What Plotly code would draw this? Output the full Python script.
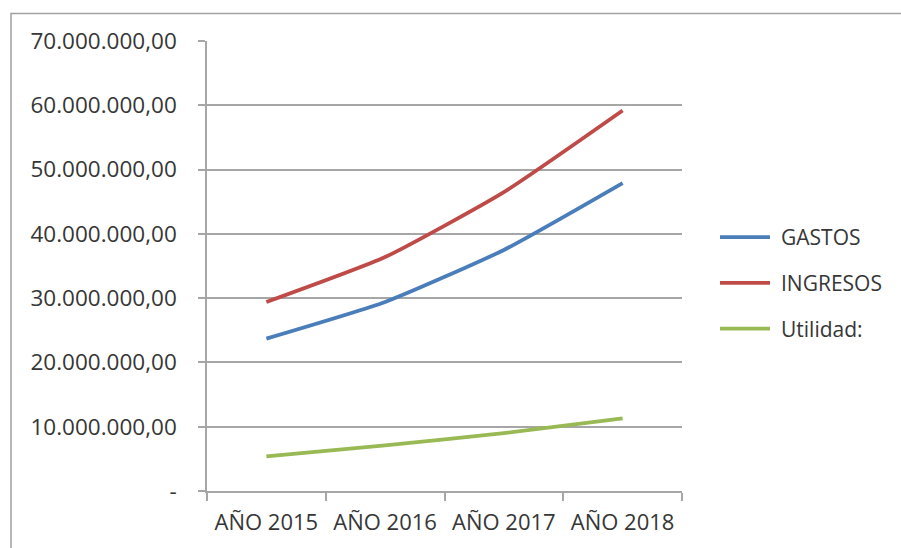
import plotly.graph_objects as go

# Annual figures (pesos)
years = ["AÑO 2015", "AÑO 2016", "AÑO 2017", "AÑO 2018"]
gastos = [23_700_000, 29_400_000, 37_500_000, 47_900_000]
ingresos = [29_400_000, 36_400_000, 46_500_000, 59_200_000]
utilidad = [5_400_000, 7_100_000, 9_000_000, 11_300_000]

series_names = ["GASTOS", "INGRESOS", "Utilidad:"]
series_colors = ["#4a7ebb", "#be4b48", "#98b954"]

y_tick_vals = [0, 10_000_000, 20_000_000, 30_000_000, 40_000_000,
               50_000_000, 60_000_000, 70_000_000]
y_tick_text = ["-", "10.000.000,00", "20.000.000,00", "30.000.000,00",
               "40.000.000,00", "50.000.000,00", "60.000.000,00",
               "70.000.000,00"]

W, H = 901, 548
L, R, T, B = 207, 682, 41, 493  # plot area in pixels

FONT = "Open Sans, Lato, DejaVu Sans, sans-serif"
TEXT = "#363636"
GRID = "#a6a6a6"


def px_x(x):
    return (x - L) / (R - L)


def px_y(y):
    return (B - y) / (B - T)


fig = go.Figure()
for name, vals, col in zip(series_names, [gastos, ingresos, utilidad], series_colors):
    fig.add_trace(go.Scatter(
        x=years, y=vals, name=name, mode="lines",
        line=dict(color=col, width=3.8, shape="spline", smoothing=0.5),
        showlegend=False,
    ))

shapes = [
    # outer chart frame
    dict(type="rect", xref="paper", yref="paper",
         x0=px_x(11), x1=px_x(910), y0=px_y(560), y1=px_y(13.5),
         line=dict(color="#a0a0a0", width=1.5), layer="below"),
]
annotations = []

# legend entries
legend_y = [238, 284, 330]
for name, col, ly in zip(series_names, series_colors, legend_y):
    shapes.append(dict(type="line", xref="paper", yref="paper",
                       x0=px_x(720), x1=px_x(770), y0=px_y(ly), y1=px_y(ly),
                       line=dict(color=col, width=3.8)))
    annotations.append(dict(xref="paper", yref="paper", x=px_x(779), y=px_y(ly),
                            text=name, showarrow=False, xanchor="left",
                            yanchor="middle",
                            font=dict(family=FONT, size=21, color=TEXT)))

fig.update_layout(
    width=W, height=H,
    margin=dict(l=L, r=W - R, t=T, b=H - B, pad=0),
    paper_bgcolor="white", plot_bgcolor="white",
    font=dict(family=FONT, size=22, color=TEXT),
    shapes=shapes, annotations=annotations,
    showlegend=False,
)
fig.update_xaxes(
    type="category", range=[-0.5, 3.5], tickson="boundaries",
    showgrid=False, showline=True, linecolor=GRID, linewidth=1.5,
    ticks="outside", ticklen=8, tickcolor=GRID, tickwidth=1.5,
    ticklabelstandoff=11,
    tickfont=dict(family=FONT, size=22, color=TEXT),
)
fig.update_yaxes(
    range=[0, 70_000_000], tickvals=y_tick_vals, ticktext=y_tick_text,
    showgrid=True, gridcolor=GRID, gridwidth=1.5,
    showline=True, linecolor=GRID, linewidth=1.5,
    ticks="outside", ticklen=7, tickcolor=GRID, tickwidth=1.5,
    ticklabelstandoff=17, zeroline=False,
    tickfont=dict(family=FONT, size=22.5, color=TEXT),
)

fig.write_html("out.html")
